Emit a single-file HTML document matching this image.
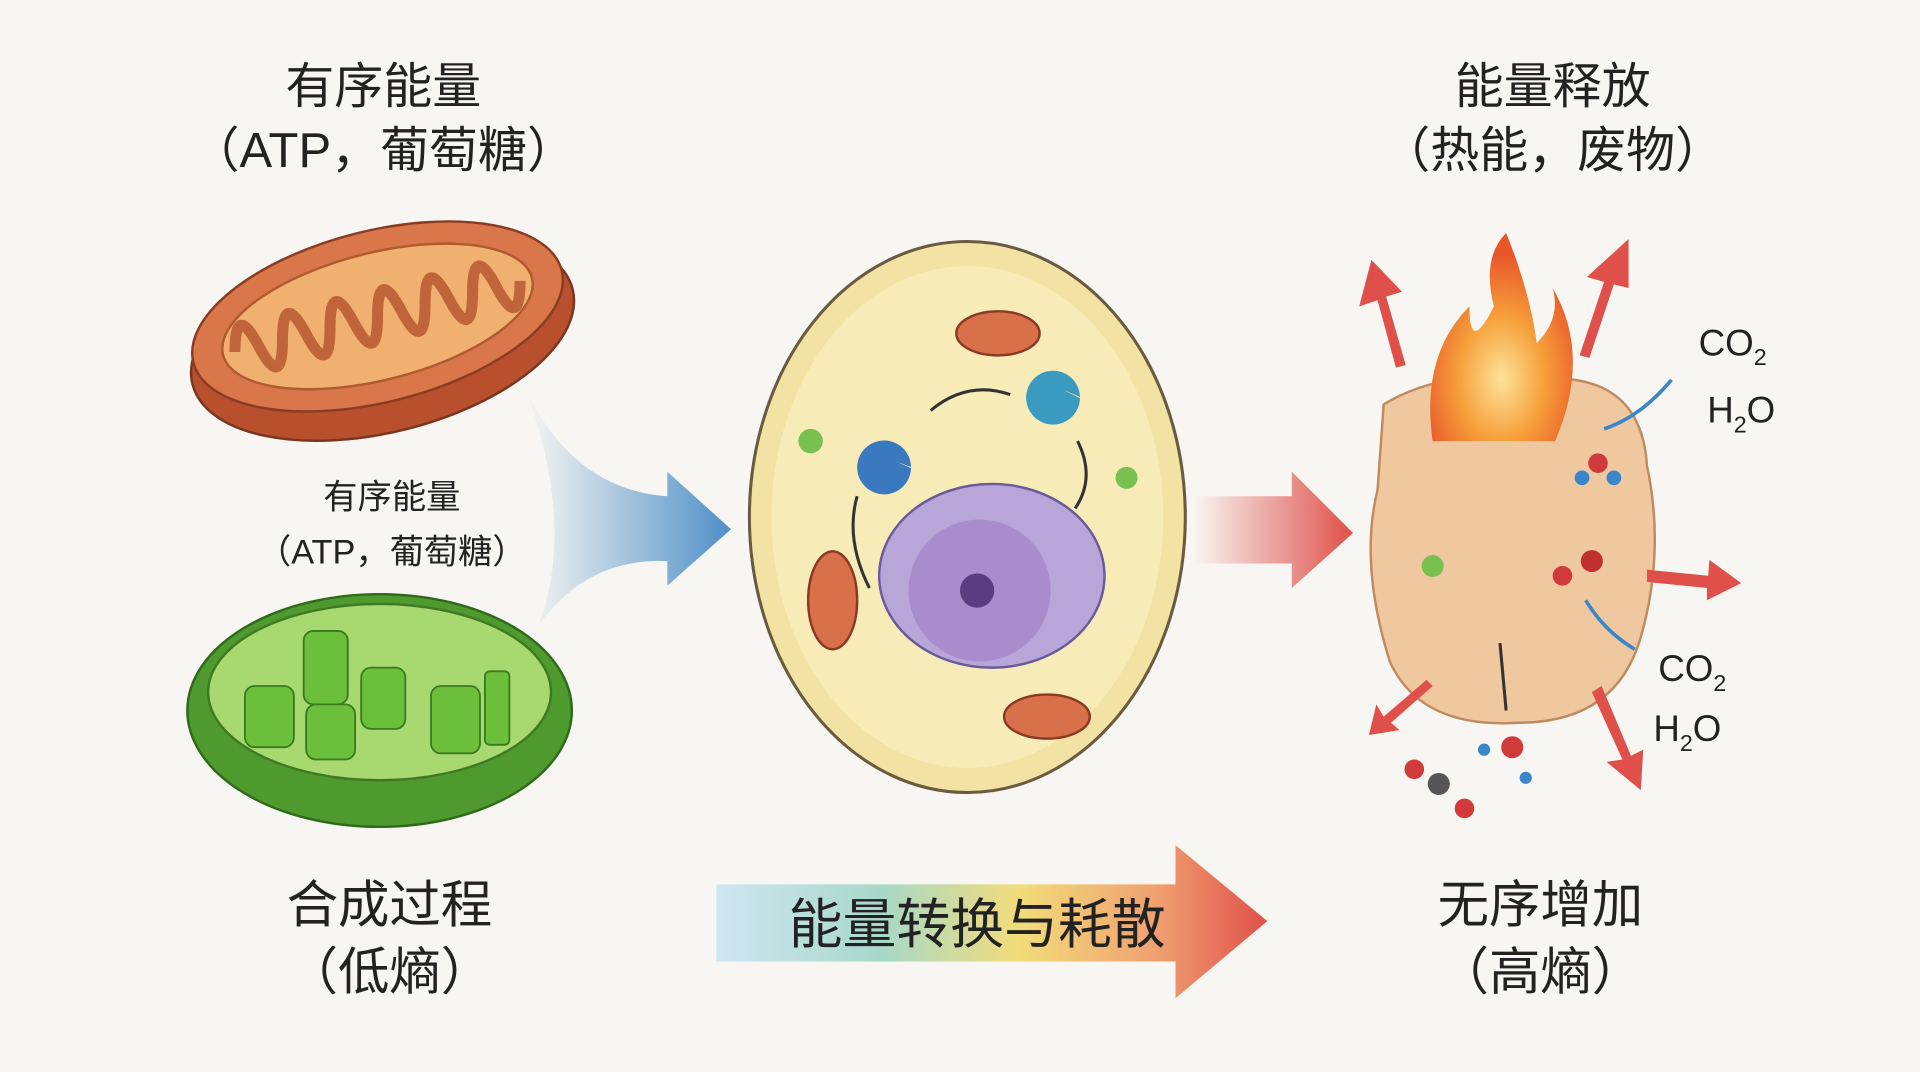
<!DOCTYPE html>
<html><head><meta charset="utf-8"><style>
html,body{margin:0;padding:0;background:#f7f6f2;}
svg{display:block}
text{font-family:"Liberation Sans","Noto Sans CJK SC",sans-serif;fill:#222;text-anchor:middle}
</style></head><body>
<svg width="1920" height="1072" viewBox="0 0 1568 875" xmlns="http://www.w3.org/2000/svg">
<defs>
<linearGradient id="gb" x1="0" x2="1"><stop offset="0" stop-color="#f7f6f2"/><stop offset="1" stop-color="#4f8fc8"/></linearGradient>
<linearGradient id="gr" x1="0" x2="1"><stop offset="0" stop-color="#f7f6f2"/><stop offset="1" stop-color="#e0504a"/></linearGradient>
<linearGradient id="gm" x1="0" x2="1"><stop offset="0" stop-color="#cfe6f2"/><stop offset="0.3" stop-color="#a8d8c8"/><stop offset="0.55" stop-color="#f2dc7a"/><stop offset="0.8" stop-color="#f0a070"/><stop offset="1" stop-color="#e0504a"/></linearGradient>
<radialGradient id="fl" cx="0.5" cy="0.7" r="0.6"><stop offset="0" stop-color="#fde39a"/><stop offset="0.5" stop-color="#f6a03a"/><stop offset="1" stop-color="#e8562a"/></radialGradient>
</defs>
<rect width="1568" height="875" fill="#f7f6f2"/>
<!-- titles -->
<text x="313" y="84" font-size="40">有序能量</text>
<text x="313" y="136" font-size="40">（ATP，葡萄糖）</text>
<text x="1268" y="84" font-size="40">能量释放</text>
<text x="1268" y="136" font-size="40">（热能，废物）</text>
<!-- mitochondrion -->
<g transform="rotate(-14 310 265)">
<ellipse cx="310" cy="275" rx="160" ry="78" fill="#b8502e" stroke="#7a3520" stroke-width="2"/>
<ellipse cx="310" cy="258" rx="155" ry="70" fill="#d9764a" stroke="#8a3c22" stroke-width="2"/>
<ellipse cx="310" cy="258" rx="130" ry="52" fill="#f0b070" stroke="#b05a30" stroke-width="2"/>
<path d="M190 258 q10 -40 20 0 q10 40 20 0 q10 -40 20 0 q10 40 20 0 q10 -40 20 0 q10 40 20 0 q10 -40 20 0 q10 40 20 0 q10 -40 20 0 q10 40 20 0 q10 -40 20 0 q10 40 20 0" fill="none" stroke="#c0653a" stroke-width="9"/>
</g>
<!-- middle labels -->
<text x="320" y="415" font-size="28">有序能量</text>
<text x="320" y="460" font-size="28">（ATP，葡萄糖）</text>
<!-- chloroplast -->
<ellipse cx="310" cy="580" rx="157" ry="95" fill="#4f9a2e" stroke="#2f6a1a" stroke-width="2"/>
<ellipse cx="310" cy="565" rx="140" ry="72" fill="#a8d870" stroke="#3f7a22" stroke-width="2"/>
<g fill="#6cbf3a" stroke="#3a7a1e" stroke-width="1.5">
<rect x="200" y="560" width="40" height="50" rx="8"/><rect x="248" y="515" width="36" height="60" rx="8"/>
<rect x="250" y="575" width="40" height="45" rx="8"/><rect x="295" y="545" width="36" height="50" rx="8"/>
<rect x="352" y="560" width="40" height="55" rx="8"/><rect x="396" y="548" width="20" height="60" rx="4"/>
</g>
<!-- blue arrows -->
<path d="M430 320 Q470 400 545 405 L545 385 L597 432 L545 478 L545 458 Q480 455 440 510 Q470 430 430 320 Z" fill="url(#gb)"/>
<!-- cell -->
<ellipse cx="790" cy="422" rx="178" ry="225" fill="#f2e2a4" stroke="#6a5a40" stroke-width="2.5"/>
<ellipse cx="790" cy="422" rx="160" ry="205" fill="#f7ecb8"/>
<ellipse cx="815" cy="272" rx="34" ry="18" fill="#d8704a" stroke="#8a3a22" stroke-width="2"/>
<ellipse cx="680" cy="490" rx="20" ry="40" fill="#d8704a" stroke="#8a3a22" stroke-width="2"/>
<ellipse cx="855" cy="585" rx="35" ry="18" fill="#d8704a" stroke="#8a3a22" stroke-width="2"/>
<ellipse cx="810" cy="470" rx="92" ry="75" fill="#b8a6d8" stroke="#6a5a9a" stroke-width="2"/>
<circle cx="800" cy="482" r="58" fill="#a88ccc"/>
<circle cx="798" cy="482" r="14" fill="#5a3d80"/>
<circle cx="662" cy="360" r="10" fill="#7ac050"/>
<circle cx="920" cy="390" r="9" fill="#7ac050"/>
<path d="M744 382 a22 22 0 1 1 0 -1 l-12 -4 z" fill="#3a78c0"/>
<path d="M882 325 a22 22 0 1 1 0 -1 l-14 -6 z" fill="#3a9ac0"/>
<path d="M760 335 Q790 310 825 322" fill="none" stroke="#333" stroke-width="2.5"/>
<path d="M880 360 Q895 390 878 415" fill="none" stroke="#333" stroke-width="2.5"/>
<path d="M710 480 Q690 440 700 405" fill="none" stroke="#333" stroke-width="2.5"/>
<!-- red middle arrow -->
<path d="M975 405 L1055 405 L1055 385 L1105 435 L1055 480 L1055 460 L975 460 Z" fill="url(#gr)"/>
<!-- right blob -->
<path d="M1130 330 Q1180 300 1250 310 Q1340 300 1345 380 Q1360 450 1340 520 Q1320 590 1240 590 Q1160 595 1135 540 Q1110 460 1125 400 Z" fill="#f0c8a0" stroke="#c08a60" stroke-width="2"/>
<path d="M1170 360 Q1160 290 1200 250 Q1200 290 1220 250 Q1210 210 1230 190 Q1250 240 1255 280 Q1275 260 1268 235 Q1300 290 1270 360 Z" fill="url(#fl)"/>
<g fill="#e0504a">
<path d="M1140 300 L1125 245 L1110 250 L1120 212 L1145 238 L1132 242 L1148 298 Z"/>
<path d="M1290 290 L1310 230 L1296 226 L1330 195 L1330 235 L1318 232 L1298 292 Z"/>
<path d="M1345 465 L1395 470 L1396 457 L1422 476 L1394 490 L1394 480 L1345 475 Z"/>
<path d="M1165 555 L1130 585 L1124 575 L1118 600 L1143 596 L1136 590 L1170 560 Z"/>
<path d="M1300 565 L1325 620 L1312 622 L1340 645 L1342 612 L1332 617 L1308 560 Z"/>
</g>
<g stroke="#3a86c8" stroke-width="3" fill="none">
<path d="M1310 350 Q1340 340 1365 310"/><path d="M1295 490 Q1310 515 1335 530"/>
</g>
<circle cx="1305" cy="378" r="8" fill="#d03a3a"/><circle cx="1292" cy="390" r="6" fill="#3a86c8"/><circle cx="1318" cy="390" r="6" fill="#3a86c8"/>
<circle cx="1276" cy="470" r="8" fill="#d03a3a"/><circle cx="1300" cy="458" r="9" fill="#c03030"/>
<circle cx="1170" cy="462" r="9" fill="#7ac050"/>
<circle cx="1155" cy="628" r="8" fill="#d03a3a"/><circle cx="1175" cy="640" r="9" fill="#555"/><circle cx="1196" cy="660" r="8" fill="#d03a3a"/>
<circle cx="1235" cy="610" r="9" fill="#d03a3a"/><circle cx="1212" cy="612" r="5" fill="#3a86c8"/><circle cx="1246" cy="635" r="5" fill="#3a86c8"/>
<path d="M1225 525 L1230 580" stroke="#333" stroke-width="2.5"/>
<text x="1415" y="290" font-size="30">CO<tspan font-size="19" dy="8">2</tspan></text>
<text x="1422" y="345" font-size="30">H<tspan font-size="19" dy="8">2</tspan><tspan dy="-8">O</tspan></text>
<text x="1382" y="556" font-size="30">CO<tspan font-size="19" dy="8">2</tspan></text>
<text x="1378" y="605" font-size="30">H<tspan font-size="19" dy="8">2</tspan><tspan dy="-8">O</tspan></text>
<!-- bottom -->
<text x="318" y="753" font-size="42">合成过程</text>
<text x="318" y="808" font-size="42">（低熵）</text>
<path d="M585 722 L960 722 L960 690 L1035 752 L960 815 L960 785 L585 785 Z" fill="url(#gm)"/>
<text x="798" y="770" font-size="44">能量转换与耗散</text>
<text x="1258" y="753" font-size="42">无序增加</text>
<text x="1258" y="808" font-size="42">（高熵）</text>
</svg>
</body></html>
